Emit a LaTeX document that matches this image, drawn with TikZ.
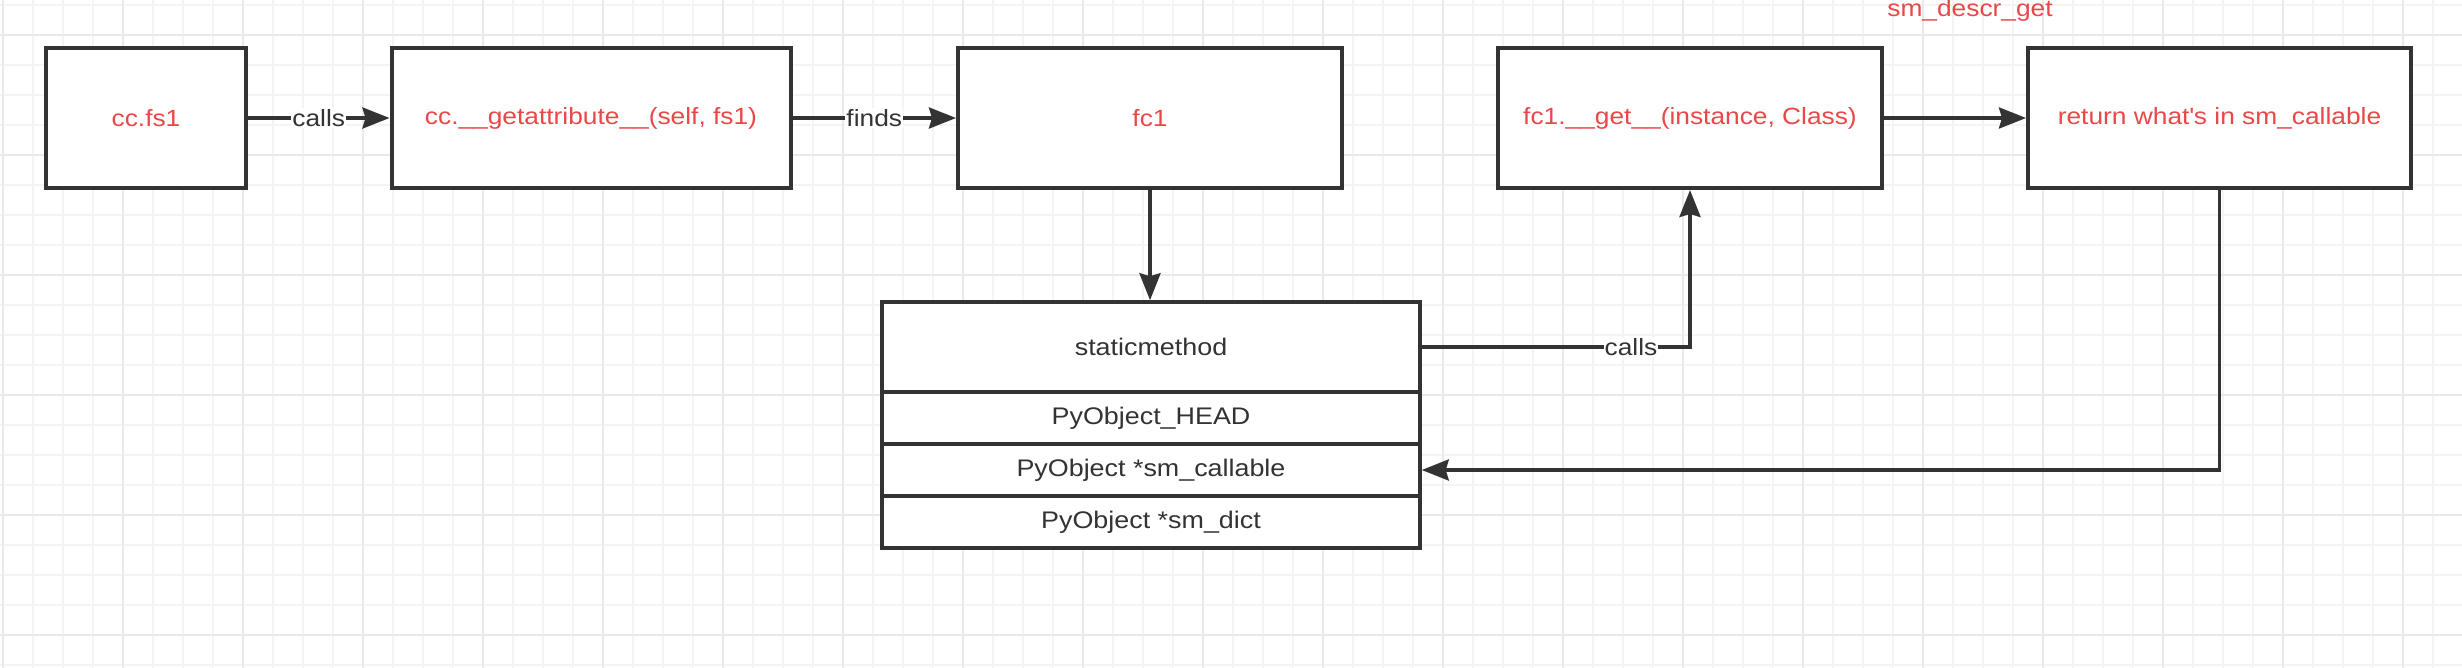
\documentclass[tikz,border=0pt]{standalone}
\usepackage{fontspec}
\setmainfont[FakeStretch=1.12]{Liberation Sans}
\usetikzlibrary{arrows.meta}
\definecolor{dk}{HTML}{333333}
\definecolor{rd}{HTML}{EA4848}
\definecolor{gmin}{HTML}{F4F4F4}
\definecolor{gmaj}{HTML}{EAEAEA}
\begin{document}
\begin{tikzpicture}[x=1bp,y=-1bp,
  box/.style={draw=dk, line width=4bp, fill=white, minimum height=140bp, inner sep=0pt, text=rd, font=\fontsize{23.5bp}{28bp}\selectfont},
  row/.style={draw=dk, line width=3.5bp, fill=white, minimum width=538bp, inner sep=0pt, text=dk, font=\fontsize{24bp}{28bp}\selectfont},
  conn/.style={draw=dk, line width=3.5bp, -{Stealth[length=27bp,width=21bp,inset=3bp]}},
  lbl/.style={fill=white, text=dk, inner sep=1bp, font=\fontsize{23.5bp}{28bp}\selectfont},
  note/.style={text=rd, inner sep=0pt, font=\fontsize{23.5bp}{28bp}\selectfont}]
\useasboundingbox (0,0) rectangle (2462,668);
\fill[white] (0,0) rectangle (2462,668);
% grid
\foreach \x in {3,33,...,2462} \draw[gmin, line width=1.5bp] (\x,0) -- (\x,668);
\foreach \y in {5,35,...,668} \draw[gmin, line width=1.5bp] (0,\y) -- (2462,\y);
\foreach \x in {3,123,...,2462} \draw[gmaj, line width=1.5bp] (\x,0) -- (\x,668);
\foreach \y in {35,155,...,668} \draw[gmaj, line width=1.5bp] (0,\y) -- (2462,\y);
% boxes
\node[box, minimum width=200bp] (a) at (146,118) {cc.fs1};
\node[box, minimum width=399bp] (b) at (591,118) {cc.\_\_getattribute\_\_(self, fs1)};
\node[box, minimum width=384bp] (c) at (1150,118) {fc1};
\node[box, minimum width=384bp] (d) at (1690,118) {fc1.\_\_get\_\_(instance, Class)};
\node[box, minimum width=383bp] (e) at (2219.5,118) {return what\textquotesingle s in sm\_callable};
\node[note] (n) at (1970,10) {sm\_descr\_get};
% table
\node[row, minimum height=90bp] (t0) at (1151,347) {staticmethod};
\node[row, minimum height=52bp] (t1) at (1151,418) {PyObject\_HEAD};
\node[row, minimum height=52bp] (t2) at (1151,470) {PyObject *sm\_callable};
\node[row, minimum height=52bp] (t3) at (1151,522) {PyObject *sm\_dict};
% connectors
\draw[conn] (a) -- node[lbl]{calls} (b);
\draw[conn] (b) -- node[lbl]{finds} (c);
\draw[conn] (c.south) -- (c.south |- t0.north);
\draw[conn] (t0.east) -| node[lbl, pos=0.39]{calls} (d.south);
\draw[conn] (e.south) |- (t2.east);
\draw[conn] (d) -- (e);
\end{tikzpicture}
\end{document}
